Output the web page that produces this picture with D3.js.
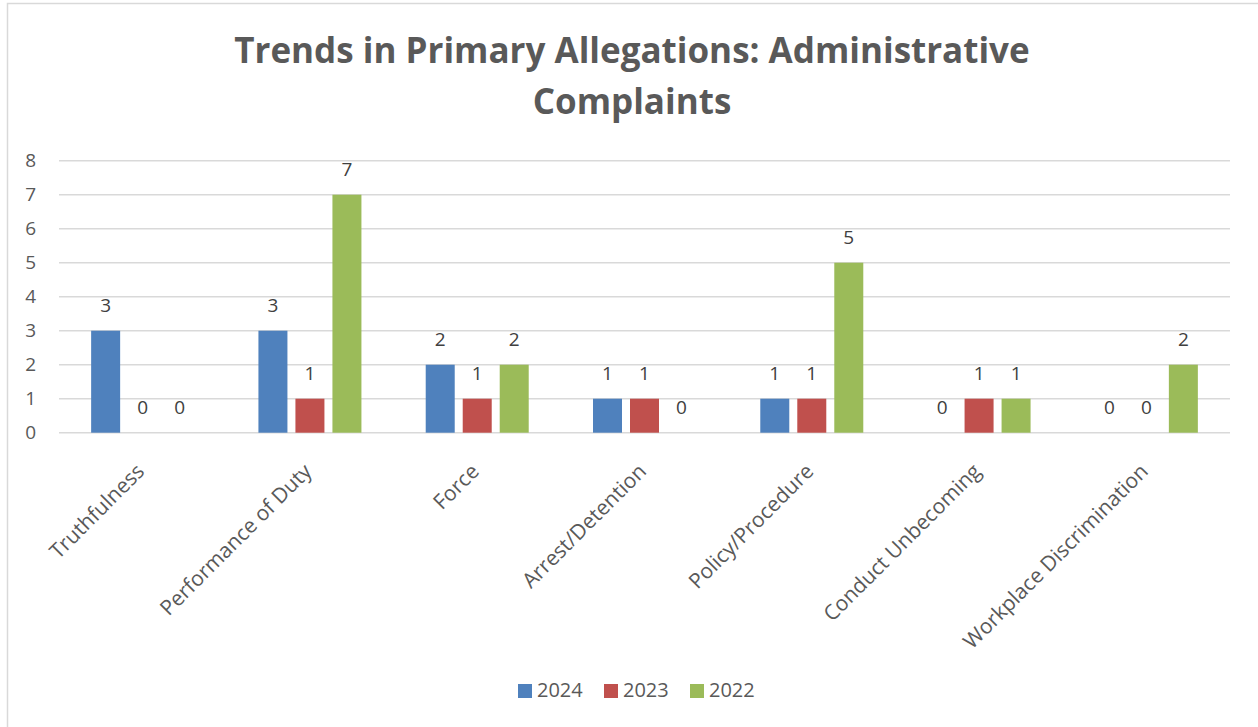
<!DOCTYPE html>
<html>
<head>
<meta charset="utf-8">
<script src="https://cdn.jsdelivr.net/npm/d3@7"></script>
<style>
  html, body { margin: 0; padding: 0; background: #fff; }
  svg { display: block; font-family: "Open Sans", "Noto Sans", sans-serif; }
</style>
</head>
<body>
<svg id="chart" width="1258" height="727"></svg>
<script>
const categories = ["Truthfulness", "Performance of Duty", "Force", "Arrest/Detention", "Policy/Procedure", "Conduct Unbecoming", "Workplace Discrimination"];
const seriesNames = ["2024", "2023", "2022"];
const values2024 = [3, 3, 2, 1, 1, 0, 0];
const values2023 = [0, 1, 1, 1, 1, 1, 0];
const values2022 = [0, 7, 2, 0, 5, 1, 2];
const yTicks = [0, 1, 2, 3, 4, 5, 6, 7, 8];
const colors = ["#4f81bd", "#c0504d", "#9bbb59"];
const titleLines = ["Trends in Primary Allegations: Administrative", "Complaints"];

const seriesValues = [values2024, values2023, values2022];

const svg = d3.select("#chart");

// chart border
svg.append("rect")
  .attr("x", 7.5).attr("y", 3.5)
  .attr("width", 1270).attr("height", 740)
  .attr("fill", "none").attr("stroke", "#d9d9d9").attr("stroke-width", 1.5);

// title
svg.append("text")
  .attr("text-anchor", "middle")
  .attr("fill", "#595959")
  .attr("font-weight", "bold")
  .attr("font-size", 35)
  .selectAll("tspan").data(titleLines).join("tspan")
  .attr("x", 632)
  .attr("y", (d, i) => 63 + i * 51)
  .text(d => d);

const plotLeft = 59, plotRight = 1230, plotTop = 160.7, plotBottom = 432.7;

const x = d3.scaleBand().domain(categories).range([plotLeft, plotRight]).paddingInner(0).paddingOuter(0);
const groupWidth = 103;
const xs = d3.scaleBand().domain(seriesNames).range([0, groupWidth]).paddingInner(16 / 74).paddingOuter(0);
const y = d3.scaleLinear().domain([0, 8]).range([plotBottom, plotTop]);

// gridlines
svg.append("g")
  .selectAll("line").data(yTicks).join("line")
  .attr("x1", plotLeft).attr("x2", plotRight)
  .attr("y1", d => y(d)).attr("y2", d => y(d))
  .attr("stroke", "#d9d9d9").attr("stroke-width", 1.5);

// y axis labels
const yAxis = d3.axisLeft(y).tickValues(yTicks).tickSize(0).tickPadding(0).tickFormat(d3.format("d"));
const yg = svg.append("g").attr("transform", "translate(36,0)").call(yAxis);
yg.select(".domain").remove();
yg.selectAll("text").attr("font-size", 19).attr("fill", "#595959").attr("font-family", "Open Sans, sans-serif");

// bars
const groupOffset = (x.bandwidth() - groupWidth) / 2;
const barData = [];
categories.forEach((c, ci) => {
  seriesNames.forEach((s, si) => {
    barData.push({ cat: c, series: s, si: si, value: seriesValues[si][ci] });
  });
});

const bx = d => x(d.cat) + groupOffset + xs(d.series);

svg.append("g")
  .selectAll("rect").data(barData.filter(d => d.value > 0)).join("rect")
  .attr("x", bx)
  .attr("width", xs.bandwidth())
  .attr("y", d => y(d.value))
  .attr("height", d => y(0) - y(d.value))
  .attr("fill", d => colors[d.si]);

// data labels
svg.append("g")
  .selectAll("text").data(barData).join("text")
  .attr("x", d => bx(d) + xs.bandwidth() / 2)
  .attr("y", d => y(d.value) - 19)
  .attr("text-anchor", "middle")
  .attr("font-size", 19)
  .attr("fill", "#404040")
  .text(d => d.value);

// category labels
const xAxis = d3.axisBottom(x).tickSize(0).tickPadding(0);
const xg = svg.append("g").attr("transform", `translate(0,${plotBottom})`).call(xAxis);
xg.select(".domain").remove();
xg.selectAll("text")
  .attr("font-size", 21)
  .attr("fill", "#595959")
  .attr("font-family", "Open Sans, sans-serif")
  .attr("text-anchor", "end")
  .attr("dy", 0)
  .attr("y", 0)
  .attr("transform", "translate(3,40) rotate(-45)");

// legend
const legend = svg.append("g")
  .selectAll("g").data(seriesNames).join("g")
  .attr("transform", (d, i) => `translate(${518 + i * 86},684)`);
legend.append("rect").attr("width", 14).attr("height", 14).attr("fill", (d, i) => colors[i]);
legend.append("text")
  .attr("x", 19).attr("y", 13)
  .attr("font-size", 20)
  .attr("fill", "#595959")
  .text(d => d);
</script>
</body>
</html>
